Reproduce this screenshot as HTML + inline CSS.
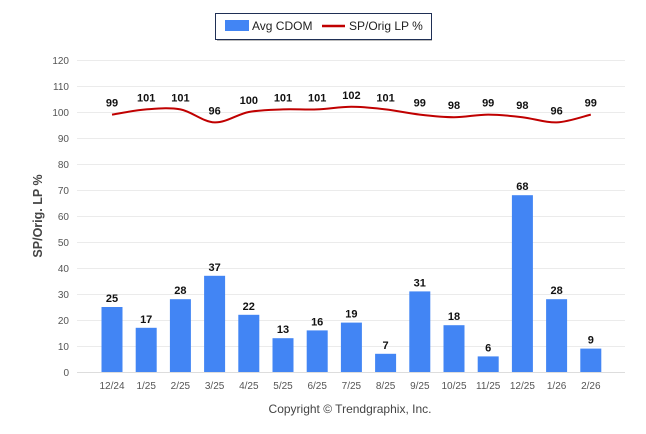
<!DOCTYPE html>
<html><head><meta charset="utf-8"><style>
body{margin:0;background:#fff;font-family:"Liberation Sans",sans-serif}
svg{display:block}
</style></head><body>
<svg width="646" height="434">
<g>
<rect x="215.5" y="13.5" width="216" height="26" fill="#fff" stroke="#1f2f55" stroke-width="1"/>
<line x1="217" y1="40.5" x2="432" y2="40.5" stroke="#bbb"/>
<rect x="225" y="20" width="24" height="11" fill="#4285f4"/>
<text x="252" y="30" font-size="12" fill="#222">Avg CDOM</text>
<line x1="322" y1="26" x2="345" y2="26" stroke="#c00000" stroke-width="2.5"/>
<text x="349" y="30" font-size="12" fill="#222">SP/Orig LP %</text>
</g>
<text transform="translate(42,216) rotate(-90)" text-anchor="middle" font-size="12.5" font-weight="bold" fill="#444">SP/Orig. LP %</text>
<g id="grid"></g><g id="bars"></g><g id="line"></g><g id="labels"></g>
<text x="350" y="413" text-anchor="middle" font-size="12" fill="#444">Copyright © Trendgraphix, Inc.</text>
</svg>
<script>
const categories=["12/24","1/25","2/25","3/25","4/25","5/25","6/25","7/25","8/25","9/25","10/25","11/25","12/25","1/26","2/26"];
const cdom=[25,17,28,37,22,13,16,19,7,31,18,6,68,28,9];
const spOrig=[99,101,101,96,100,101,101,102,101,99,98,99,98,96,99];
const yTicks=[0,10,20,30,40,50,60,70,80,90,100,110,120];
const NS="http://www.w3.org/2000/svg";
const y=v=>372-v*2.6;
const x=i=>112+i*34.2;
function mk(t,a,p){const e=document.createElementNS(NS,t);for(const k in a)e.setAttribute(k,a[k]);p.appendChild(e);return e;}
const g=document.getElementById('grid'),b=document.getElementById('bars'),l=document.getElementById('line'),lb=document.getElementById('labels');
yTicks.forEach(v=>{
 const ln=mk('line',{x1:77,x2:625,y1:y(v)+0.5,y2:y(v)+0.5,stroke:v===0?'#ddd':'#ebebeb'},g);
 
 
 const t=mk('text',{x:69,y:y(v)+4,'text-anchor':'end','font-size':10,fill:'#555'},g);t.textContent=v;
 
 
});
categories.forEach((c,i)=>{
 const t=mk('text',{x:x(i),y:389,'text-anchor':'middle','font-size':10,fill:'#555'},g);t.textContent=c;
 
 
 const r=mk('rect',{x:x(i)-10.5,y:y(cdom[i]),width:21,height:cdom[i]*2.6,fill:'#4285f4'},b);
 
 
 const bt=mk('text',{x:x(i),y:y(cdom[i])-5,'text-anchor':'middle','font-size':11,'font-weight':'bold',fill:'#111'},lb);bt.textContent=cdom[i];
 
 
 const lt=mk('text',{x:x(i),y:y(spOrig[i])-8,'text-anchor':'middle','font-size':11,'font-weight':'bold',fill:'#111'},lb);lt.textContent=spOrig[i];
 
 
});
const P=spOrig.map((v,i)=>[x(i),y(v)]);
let d='M'+P[0][0]+','+P[0][1];
for(let i=1;i<P.length;i++){
 const p0=P[Math.max(0,i-2)],p1=P[i-1],p2=P[i],p3=P[Math.min(P.length-1,i+1)];
 const c1=[p1[0]+(p2[0]-p0[0])/6,p1[1]+(p2[1]-p0[1])/6];
 const c2=[p2[0]-(p3[0]-p1[0])/6,p2[1]-(p3[1]-p1[1])/6];
 d+=` C${c1[0]},${c1[1]} ${c2[0]},${c2[1]} ${p2[0]},${p2[1]}`;
}
const path=mk('path',{d:d,fill:'none',stroke:'#c00000','stroke-width':2},l);


</script>
</body></html>
